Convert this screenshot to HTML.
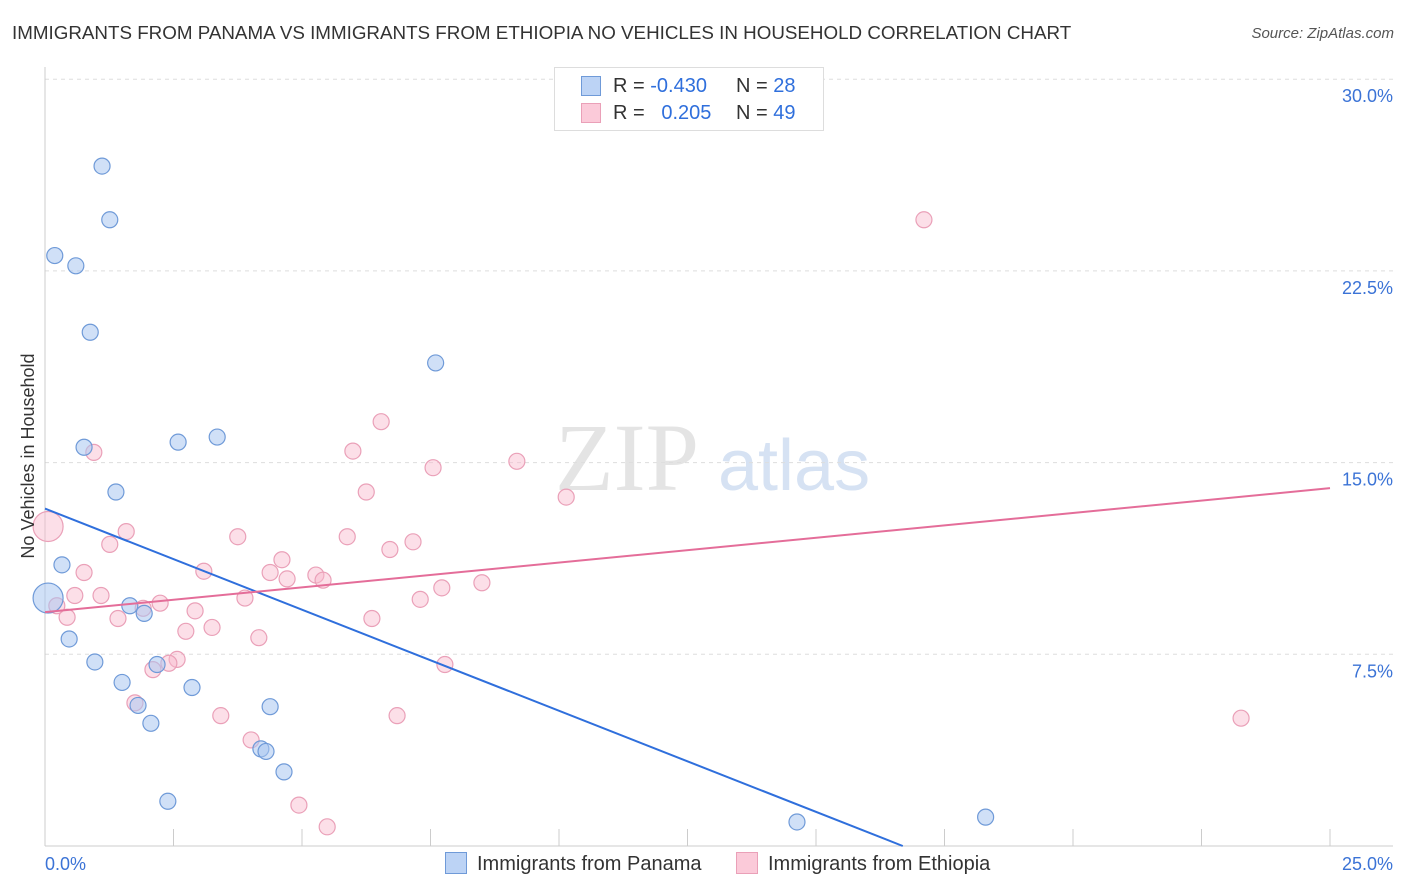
<!DOCTYPE html>
<html><head><meta charset="utf-8"><style>
body{margin:0;background:#fff;font-family:"Liberation Sans",sans-serif;}
#wrap{position:relative;width:1406px;height:892px;overflow:hidden;}
.t{position:absolute;white-space:nowrap;}
</style></head><body>
<div id="wrap">
<div class="t" style="left:12px;top:22px;font-size:18.8px;color:#333;">IMMIGRANTS FROM PANAMA VS IMMIGRANTS FROM ETHIOPIA NO VEHICLES IN HOUSEHOLD CORRELATION CHART</div>
<div class="t" style="right:12px;top:25px;font-size:15px;color:#555;font-style:italic;">Source: ZipAtlas.com</div>
<svg id="chart" width="1406" height="892" style="position:absolute;left:0;top:0"></svg>
</div>
<script>
const yTicks=[7.5,15,22.5,30];
const yTickLabels=["7.5%","15.0%","22.5%","30.0%"];
const panamaX=[1.11,1.26,0.19,0.6,0.88,7.6,0.76,2.59,3.35,1.38,0.33,0.06,1.65,1.93,0.47,0.97,2.18,1.5,2.86,1.81,4.38,2.06,4.2,4.3,4.65,2.39,14.63,18.3];
const panamaY=[26.6,24.5,23.1,22.7,20.1,18.9,15.6,15.8,16.0,13.85,11.0,9.7,9.4,9.1,8.1,7.2,7.1,6.4,6.2,5.5,5.45,4.8,3.8,3.7,2.9,1.75,0.94,1.13];
const ethX=[17.1,0.06,0.95,6.54,5.99,7.55,9.18,6.25,10.14,1.58,3.75,5.88,1.26,7.16,6.71,4.61,0.76,3.09,4.38,5.27,4.71,5.41,8.5,7.72,0.58,1.09,3.89,7.3,0.23,2.24,1.91,2.92,0.43,1.42,6.36,3.25,2.74,4.16,2.57,2.41,2.1,7.78,1.75,3.42,6.85,23.27,4.01,4.94,5.49];
const ethY=[24.5,12.5,15.4,16.6,15.45,14.8,15.05,13.85,13.65,12.3,12.1,12.1,11.8,11.9,11.6,11.2,10.7,10.75,10.7,10.6,10.45,10.4,10.3,10.1,9.8,9.8,9.7,9.65,9.4,9.5,9.3,9.2,8.95,8.9,8.9,8.55,8.4,8.15,7.3,7.15,6.9,7.1,5.6,5.1,5.1,5.0,4.15,1.6,0.75];
const panamaTrend=[13.2,-0.791]; // intercept, slope
const ethTrend=[9.15,0.194];
const X=v=>45+v*51.4, Y=v=>846-v*25.56;
const svg=document.getElementById('chart');const NS='http://www.w3.org/2000/svg';
function mk(tag,attrs){const e=document.createElementNS(NS,tag);for(const k in attrs)e.setAttribute(k,attrs[k]);svg.appendChild(e);return e;}
let wm=mk('text',{x:555,y:490,'font-size':96,'font-family':'Liberation Serif',fill:'#e4e4e4'});wm.textContent='ZIP';


let wm2=mk('text',{x:718,y:490,'font-size':72,'font-family':'Liberation Sans',fill:'#d6e2f3'});wm2.textContent='atlas';


yTicks.forEach((v,i)=>{
 let g=mk('line',{x1:45,x2:1393,y1:Y(v),y2:Y(v),stroke:'#ddd','stroke-dasharray':'4,4'});
 
 
 let t=mk('text',{x:1393,y:Y(v)+23,'text-anchor':'end','font-size':18,fill:'#3b73d6'});t.textContent=yTickLabels[i];
 
 
});
let ax=mk('line',{x1:45,x2:45,y1:67,y2:846,stroke:'#ccc'});


let bx=mk('line',{x1:45,x2:1393,y1:846,y2:846,stroke:'#ccc'});


for(let i=1;i<=10;i++){let tk=mk('line',{x1:X(i*2.5),x2:X(i*2.5),y1:829,y2:846,stroke:'#ccc'});
 
 }
function dots(xs,ys,fill,stroke,name){xs.forEach((x,i)=>{const big=(x<0.1);
 let c=mk('circle',{cx:X(x),cy:Y(ys[i]),r:big?15:8,fill:fill,stroke:stroke,'stroke-width':1.2});
 
 });}
dots(ethX,ethY,'rgba(248,183,205,0.45)','#eaa0b8','ethiopia-point');
dots(panamaX,panamaY,'rgba(170,198,240,0.55)','#6f9ad8','panama-point');
const pEnd=Math.min(25,-panamaTrend[0]/panamaTrend[1]);
let l1=mk('line',{x1:X(0),y1:Y(panamaTrend[0]),x2:X(pEnd),y2:Y(panamaTrend[0]+panamaTrend[1]*pEnd),stroke:'#2f6fdc','stroke-width':2});


let l2=mk('line',{x1:X(0),y1:Y(ethTrend[0]),x2:X(25),y2:Y(ethTrend[0]+ethTrend[1]*25),stroke:'#e46d99','stroke-width':2});


let y0=mk('text',{x:45,y:870,'font-size':18,fill:'#3b73d6'});y0.textContent='0.0%';


let y1=mk('text',{x:1393,y:870,'text-anchor':'end','font-size':18,fill:'#3b73d6'});y1.textContent='25.0%';


let yt=mk('text',{x:0,y:0,'font-size':18,fill:'#333','text-anchor':'middle',transform:'translate(34,456) rotate(-90)'});yt.textContent='No Vehicles in Household';


</script>
<div class="t" style="left:554px;top:67px;width:268px;height:62px;border:1px solid #ddd;background:#fff;font-size:20px;color:#333;">
 <div style="position:absolute;left:26px;top:8px;width:18px;height:18px;background:#bcd3f5;border:1px solid #6f9ad8"></div>
 <div style="position:absolute;left:58px;top:7px">R = <span style="color:#2f6fdc">-0.430</span></div>
 <div style="position:absolute;left:181px;top:7px">N = <span style="color:#2f6fdc">28</span></div>
 <div style="position:absolute;left:26px;top:35px;width:18px;height:18px;background:#fbcad9;border:1px solid #eaa0b8"></div>
 <div style="position:absolute;left:58px;top:34px">R = &nbsp; <span style="color:#2f6fdc">0.205</span></div>
 <div style="position:absolute;left:181px;top:34px">N = <span style="color:#2f6fdc">49</span></div>
</div>
<div class="t" style="left:445px;top:852px;font-size:20px;color:#333;"><span style="display:inline-block;width:20px;height:20px;background:#bcd3f5;border:1px solid #6f9ad8;vertical-align:-4px;margin-right:10px"></span>Immigrants from Panama</div>
<div class="t" style="left:736px;top:852px;font-size:20px;color:#333;"><span style="display:inline-block;width:20px;height:20px;background:#fbcad9;border:1px solid #eaa0b8;vertical-align:-4px;margin-right:10px"></span>Immigrants from Ethiopia</div>
</body></html>
